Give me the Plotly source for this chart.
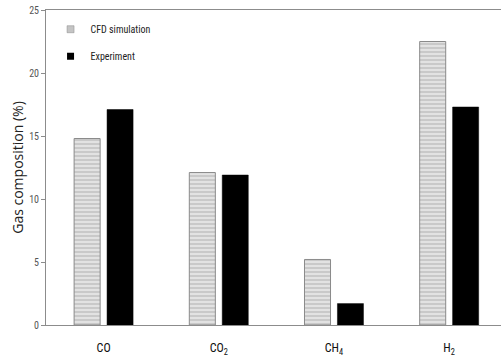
import plotly.graph_objects as go

categories = ["CO", "CO<sub>2</sub>", "CH<sub>4</sub>", "H<sub>2</sub>"]
cfd_simulation = [14.8, 12.1, 5.2, 22.5]
experiment = [17.1, 11.9, 1.7, 17.3]
y_ticks = [0, 5, 10, 15, 20, 25]

idx = list(range(len(categories)))

fig = go.Figure()
fig.add_trace(go.Bar(
    x=idx, y=cfd_simulation, name="CFD simulation",
    width=0.226, offset=-0.256,
    marker=dict(color="#d6d6d6",
                line=dict(color="#8a8a8a", width=1),
                pattern=dict(shape="-", fgcolor="#9a9a9a", bgcolor="#e2e2e2",
                             size=4, solidity=0.35)),
    showlegend=False,
))
fig.add_trace(go.Bar(
    x=idx, y=experiment, name="Experiment",
    width=0.226, offset=0.030,
    marker=dict(color="#000000", line=dict(color="#000000", width=0.5)),
    showlegend=False,
))
# legend entries (small square swatches like the reference)
fig.add_trace(go.Scatter(
    x=[None], y=[None], mode="markers", name="CFD simulation",
    marker=dict(symbol="square", size=7, color="#c4c4c4",
                line=dict(color="#8a8a8a", width=0.5)),
    legendgroup="a",
))
fig.add_trace(go.Scatter(
    x=[None], y=[None], mode="markers", name="Experiment",
    marker=dict(symbol="square", size=7, color="#000000"),
    legendgroup="b",
))

base_font = "Liberation Sans Narrow, Roboto Condensed, Liberation Sans, sans-serif"

fig.update_layout(
    width=501, height=359,
    margin=dict(l=46, r=0, t=10, b=34, autoexpand=False),
    paper_bgcolor="white", plot_bgcolor="white",
    barmode="overlay",
    showlegend=True,
    legend=dict(x=0.01, y=0.985, xanchor="left", yanchor="top",
                bgcolor="rgba(0,0,0,0)",
                font=dict(family=base_font, size=10, color="#222"),
                tracegroupgap=8, itemwidth=30),
    font=dict(family=base_font, color="#333"),
)
fig.update_xaxes(
    range=[-0.5, 3.45], tickvals=idx, ticktext=categories,
    showline=True, linecolor="#8c8c8c", linewidth=1, mirror=True,
    showgrid=False, zeroline=False, ticks="",
    ticklabelstandoff=12, automargin=False,
    tickfont=dict(family=base_font, size=12, color="#111"),
)
fig.update_yaxes(
    range=[0, 25], tickvals=y_ticks,
    showline=True, linecolor="#8c8c8c", linewidth=1,
    showgrid=False, zeroline=False,
    ticks="outside", ticklen=4, tickcolor="#8c8c8c",
    automargin=False,
    tickfont=dict(family=base_font, size=10, color="#555"),
    title=dict(text="Gas composition (%)", standoff=2,
               font=dict(family="Open Sans", size=14, color="#222")),
)

fig.write_html("out.html",
               config={"displayModeBar": False},
               post_script="document.body.style.margin='0';document.body.style.overflow='hidden';")
